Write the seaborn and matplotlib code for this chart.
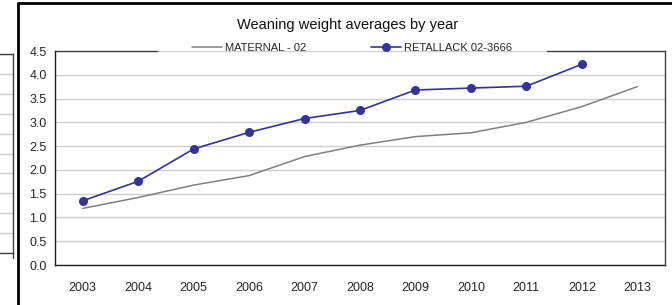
import numpy as np
import pandas as pd
import matplotlib
matplotlib.use("Agg")
import matplotlib.pyplot as plt
from matplotlib.lines import Line2D
from matplotlib.ticker import FixedLocator
import seaborn as sns

# chart data
years = ["2003", "2004", "2005", "2006", "2007", "2008",
         "2009", "2010", "2011", "2012", "2013"]
maternal = [1.19, 1.42, 1.68, 1.88, 2.28, 2.52, 2.70, 2.78, 3.00, 3.33, 3.75]
retallack = [1.35, 1.76, 2.44, 2.79, 3.08, 3.25, 3.68, 3.72, 3.76, 4.22, np.nan]
series_names = ["MATERNAL - 02", "RETALLACK 02-3666"]
y_ticks = [0.0, 0.5, 1.0, 1.5, 2.0, 2.5, 3.0, 3.5, 4.0, 4.5]

sns.set_style("white")
plt.rcParams["font.family"] = ["Liberation Sans", "DejaVu Sans"]

W, H = 672, 305
fig = plt.figure(figsize=(W / 100, H / 100), dpi=100)


def fx(px):
    return px / W


def fy(py):
    return 1 - py / H


GREY = "#808080"
NAVY = "#333399"

mat_df = pd.DataFrame({"year": years, "weight": maternal})
ret_df = pd.DataFrame({"year": years, "weight": retallack}).dropna()

ax = fig.add_axes([fx(55), fy(265), fx(665) - fx(55), fy(51) - fy(265)])
sns.lineplot(data=mat_df, x="year", y="weight", color=GREY, linewidth=1.1,
             sort=False, ax=ax)
sns.lineplot(data=ret_df, x="year", y="weight", color=NAVY, linewidth=1.2,
             marker="o", markersize=6.5, markeredgewidth=0, sort=False, ax=ax)

ax.set_xlim(-0.5, len(years) - 0.5)
ax.set_ylim(0, 4.5)
ax.set_yticks(y_ticks)
ax.set_yticklabels([f"{v:.1f}" for v in y_ticks])
ax.set_xlabel("")
ax.set_ylabel("")
ax.yaxis.grid(True, color="#d0d0d0", linewidth=1.0)
ax.set_axisbelow(True)

ax.xaxis.set_minor_locator(FixedLocator(np.arange(-0.5, len(years), 1.0)))
ax.tick_params(axis="x", which="major", length=0, pad=12, labelsize=9)
ax.tick_params(axis="x", which="minor", length=4, width=1, color="#202020",
               direction="out")
ax.tick_params(axis="y", length=4, width=1, color="#202020", direction="out",
               labelsize=9, pad=2)
for side in ["left", "bottom"]:
    ax.spines[side].set_color("#202020")
    ax.spines[side].set_linewidth(1.0)
ax.spines["right"].set_color("#404040")
ax.spines["right"].set_linewidth(1.0)
ax.spines["top"].set_visible(False)

# top border broken by the legend
for x0, x1 in [(55, 157), (547, 665)]:
    ax.add_line(Line2D([(x0 - 55) / 610, (x1 - 55) / 610], [1, 1],
                       transform=ax.transAxes, color="#404040", lw=1.0,
                       clip_on=False))

fig.text(fx(348), fy(25), "Weaning weight averages by year", ha="center",
         va="center", fontsize=10.5, color="#111111")

handles = [
    Line2D([], [], color=GREY, lw=1.1),
    Line2D([], [], color=NAVY, lw=1.2, marker="o", markersize=6.5,
           markeredgewidth=0),
]
fig.legend(handles, series_names, loc="center",
           bbox_to_anchor=(fx(352), fy(48)), ncol=2, frameon=False,
           fontsize=8, handlelength=2.7, handletextpad=0.2,
           columnspacing=5.9, borderpad=0)

# neighbouring chart partly visible at the left edge
ax2 = fig.add_axes([fx(-60), fy(253), fx(12.5) - fx(-60), fy(54) - fy(253)])
ax2.set_xlim(0, 1)
ax2.set_ylim(0, 10)
ax2.set_yticks(np.arange(0, 11, 1))
ax2.yaxis.grid(True, color="#d0d0d0", linewidth=1.0)
ax2.tick_params(left=False, labelleft=False, bottom=False, labelbottom=False)
ax2.set_xticks([])
ax2.spines["left"].set_visible(False)
for side in ["right", "bottom", "top"]:
    ax2.spines[side].set_color("#404040")
    ax2.spines[side].set_linewidth(1.0)
fig.add_artist(Line2D([fx(12.5), fx(12.5)], [fy(253), fy(258)],
                      color="#404040", lw=1.0))

# frame of the outer chart
fig.add_artist(Line2D([fx(18), fx(18)], [0, fy(2.5)], color="black", lw=2.0))
fig.add_artist(Line2D([fx(18), 1], [fy(2.5), fy(2.5)], color="black", lw=2.0))

fig.savefig("out.png", dpi=100, facecolor="white")
